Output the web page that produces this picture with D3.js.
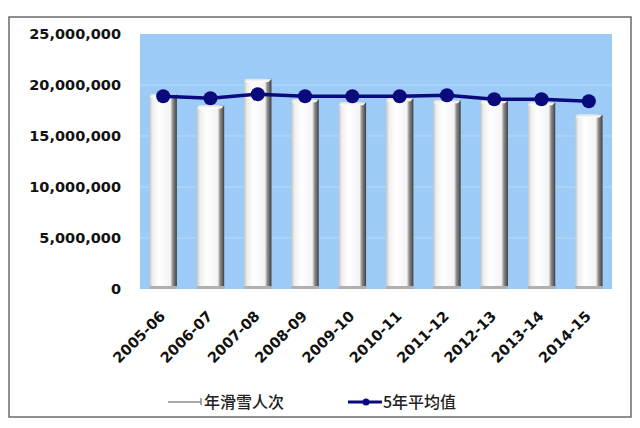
<!DOCTYPE html>
<html>
<head>
<meta charset="utf-8">
<script src="https://cdn.jsdelivr.net/npm/d3@7"></script>
<style>
  body { margin: 0; background: #fff; }
  .y-label { font-family: "DejaVu Sans", Verdana, sans-serif; font-weight: bold; font-size: 14.5px; fill: #111; }
  .x-label { font-family: "DejaVu Sans", Verdana, sans-serif; font-weight: bold; font-size: 14.5px; fill: #111; }
  .legend text { font-family: "Noto Sans CJK SC", sans-serif; font-weight: 500; font-size: 16px; fill: #222; }
</style>
</head>
<body>
<div id="chart"></div>
<script>
// 季度 / 年滑雪人次 / 5年平均值
const seasons = ['2005-06', '2006-07', '2007-08', '2008-09', '2009-10',
                 '2010-11', '2011-12', '2012-13', '2013-14', '2014-15'];
const visits = [19100000, 18000000, 20600000, 18600000, 18300000,
                18700000, 18500000, 18500000, 18300000, 17100000];
const fiveYearAvg = [18900000, 18700000, 19100000, 18900000, 18900000,
                     18900000, 19000000, 18600000, 18600000, 18400000];
const yTicks = [0, 5000000, 10000000, 15000000, 20000000, 25000000];
const legendNames = ['年滑雪人次', '5年平均值'];

const svg_width = 640;
const svg_height = 428;
const plot = { left: 140, right: 612, top: 34, bottom: 289 };

const svg = d3.select('#chart').append('svg')
    .attr('width', svg_width).attr('height', svg_height);

// gradients for the 3D-ish bars
const defs = svg.append('defs');
const barGrad = defs.append('linearGradient').attr('id', 'barGrad')
    .attr('x1', '0%').attr('x2', '100%').attr('y1', '0%').attr('y2', '0%');
[[0, '#c4c4c4'], [0.12, '#efefef'], [0.35, '#ffffff'], [0.76, '#f3f3f3'],
 [0.85, '#8e8e8e'], [1, '#404040']].forEach(s => {
    barGrad.append('stop').attr('offset', s[0]).attr('stop-color', s[1]);
});
const capGrad = defs.append('linearGradient').attr('id', 'capGrad')
    .attr('x1', '0%').attr('x2', '0%').attr('y1', '0%').attr('y2', '100%');
[[0, '#e0e0e0'], [1, '#ffffff']].forEach(s => {
    capGrad.append('stop').attr('offset', s[0]).attr('stop-color', s[1]);
});

// outer frame
svg.append('rect')
    .attr('x', 9).attr('y', 17).attr('width', 622).attr('height', 400)
    .attr('fill', '#fff').attr('stroke', '#6a6a6a').attr('stroke-width', 1.5);

// scales
const xScale = d3.scaleBand().domain(seasons).range([plot.left, plot.right])
    .paddingInner(0.42).paddingOuter(0.2);
const yScale = d3.scaleLinear().domain([0, 25000000]).range([plot.bottom, plot.top]);

// plot area
svg.append('rect')
    .attr('x', plot.left).attr('y', plot.top)
    .attr('width', plot.right - plot.left).attr('height', plot.bottom - plot.top)
    .attr('fill', '#9ccbf8');

// grid lines (faint)
svg.append('g').selectAll('line').data(yTicks.slice(1, -1)).enter()
    .append('line')
    .attr('x1', plot.left).attr('x2', plot.right)
    .attr('y1', d => yScale(d)).attr('y2', d => yScale(d))
    .attr('stroke', '#b5dafc').attr('stroke-width', 1);

// y axis labels
const yAxis = d3.axisLeft(yScale).tickValues(yTicks)
    .tickFormat(d3.format(',')).tickSize(0).tickPadding(0);
const yAxisDraw = svg.append('g')
    .attr('transform', 'translate(121,0)')
    .call(yAxis);
yAxisDraw.select('.domain').remove();
yAxisDraw.selectAll('text').attr('class', 'y-label').attr('font-family', null).attr('font-size', null);

// bars
const bars = svg.append('g').selectAll('g').data(seasons).enter().append('g');
bars.append('rect')
    .attr('x', d => xScale(d))
    .attr('y', (d, i) => yScale(visits[i]))
    .attr('width', xScale.bandwidth())
    .attr('height', (d, i) => yScale(0) - yScale(visits[i]) - 2)
    .attr('fill', 'url(#barGrad)');
bars.append('path')
    .attr('d', (d, i) => {
        const x0 = xScale(d), w = xScale.bandwidth(), y0 = yScale(visits[i]);
        return `M${x0},${y0 + 3}L${x0 + 4},${y0}L${x0 + w},${y0}L${x0 + w - 3},${y0 + 3}Z`;
    })
    .attr('fill', 'url(#capGrad)');
// base of bar
bars.append('rect')
    .attr('x', d => xScale(d))
    .attr('y', yScale(0) - 3)
    .attr('width', xScale.bandwidth())
    .attr('height', 3)
    .attr('fill', '#b0b0b0');

// average line
const cx = d => xScale(d) + xScale.bandwidth() / 2;
const line = d3.line().x(d => cx(d)).y((d, i) => yScale(fiveYearAvg[i]));
svg.append('path').datum(seasons)
    .attr('d', line)
    .attr('fill', 'none').attr('stroke', '#0a0a7c').attr('stroke-width', 3.5);
svg.append('g').selectAll('circle').data(seasons).enter()
    .append('circle')
    .attr('cx', d => cx(d))
    .attr('cy', (d, i) => yScale(fiveYearAvg[i]))
    .attr('r', 7)
    .attr('fill', '#0a0a7c');

// x labels rotated
svg.append('g').selectAll('text').data(seasons).enter()
    .append('text')
    .attr('class', 'x-label')
    .attr('text-anchor', 'end')
    .attr('transform', d => `translate(${cx(d) + 3},${plot.bottom + 28}) rotate(-45)`)
    .text(d => d);

// legend
const legend = svg.append('g').attr('class', 'legend');
legend.append('line')
    .attr('x1', 168).attr('x2', 201).attr('y1', 402).attr('y2', 402)
    .attr('stroke', '#a8a8a8').attr('stroke-width', 2);
legend.append('line')
    .attr('x1', 201).attr('x2', 201).attr('y1', 398).attr('y2', 405)
    .attr('stroke', '#888').attr('stroke-width', 1.5);
legend.append('text').attr('x', 204).attr('y', 408).text(legendNames[0]);
legend.append('line')
    .attr('x1', 348).attr('x2', 382).attr('y1', 402).attr('y2', 402)
    .attr('stroke', '#0a0a7c').attr('stroke-width', 3);
legend.append('circle').attr('cx', 366).attr('cy', 402).attr('r', 3.5).attr('fill', '#0a0a7c');
legend.append('text').attr('x', 383).attr('y', 408).text(legendNames[1]);
</script>
</body>
</html>
